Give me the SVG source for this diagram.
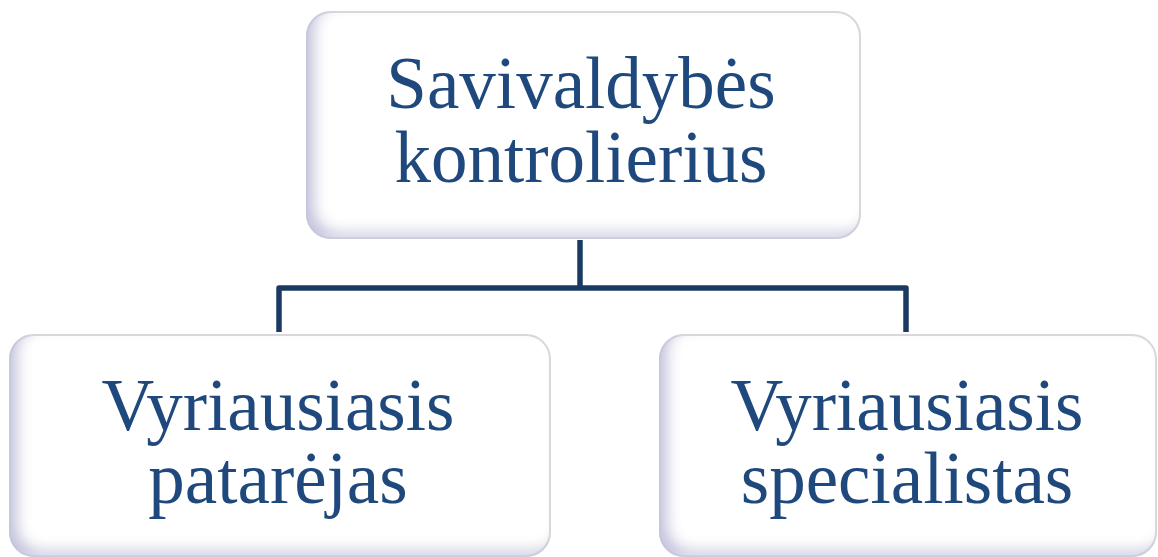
<svg xmlns="http://www.w3.org/2000/svg" width="1158" height="557" viewBox="0 0 1158 557">
  <defs>
    <filter id="bevel" x="-5%" y="-5%" width="110%" height="110%">
      <feComponentTransfer in="SourceAlpha" result="inv">
        <feFuncA type="table" tableValues="1 0"/>
      </feComponentTransfer>
      <feOffset in="inv" dx="9" dy="-7" result="off"/>
      <feGaussianBlur in="off" stdDeviation="7" result="blur"/>
      <feFlood flood-color="#c4c4de" result="col"/>
      <feComposite in="col" in2="blur" operator="in" result="sh"/>
      <feComposite in="sh" in2="SourceAlpha" operator="in" result="inner"/>
      <feMerge>
        <feMergeNode in="SourceGraphic"/>
        <feMergeNode in="inner"/>
      </feMerge>
    </filter>
  </defs>
  <style>
    .box { fill: #ffffff; stroke: #dadada; stroke-width: 2; filter: url(#bevel); }
    .lbl { font-family: "Liberation Serif", "Times New Roman", serif; font-size: 73px; fill: #1f497d; text-anchor: middle; }
    .conn { fill: none; stroke: #1b3a63; stroke-width: 5.5; stroke-linejoin: round; }
  </style>
  <rect width="1158" height="557" fill="#ffffff"/>
  <g id="connectors">
    <line class="conn" x1="580" y1="240" x2="580" y2="288"/>
    <polyline class="conn" points="279,332 279,288 906,288 906,332"/>
  </g>
  <g id="node-top">
    <rect class="box" x="307" y="12" width="553" height="226" rx="24"/>
    <text class="lbl" x="581" y="108">Savivaldybės</text>
    <text class="lbl" x="581" y="182">kontrolierius</text>
  </g>
  <g id="node-left">
    <rect class="box" x="10" y="335" width="540" height="221" rx="24"/>
    <text class="lbl" x="278" y="430">Vyriausiasis</text>
    <text class="lbl" x="278" y="503">patarėjas</text>
  </g>
  <g id="node-right">
    <rect class="box" x="660" y="335" width="496" height="221" rx="24"/>
    <text class="lbl" x="907" y="430">Vyriausiasis</text>
    <text class="lbl" x="907" y="503">specialistas</text>
  </g>
</svg>
